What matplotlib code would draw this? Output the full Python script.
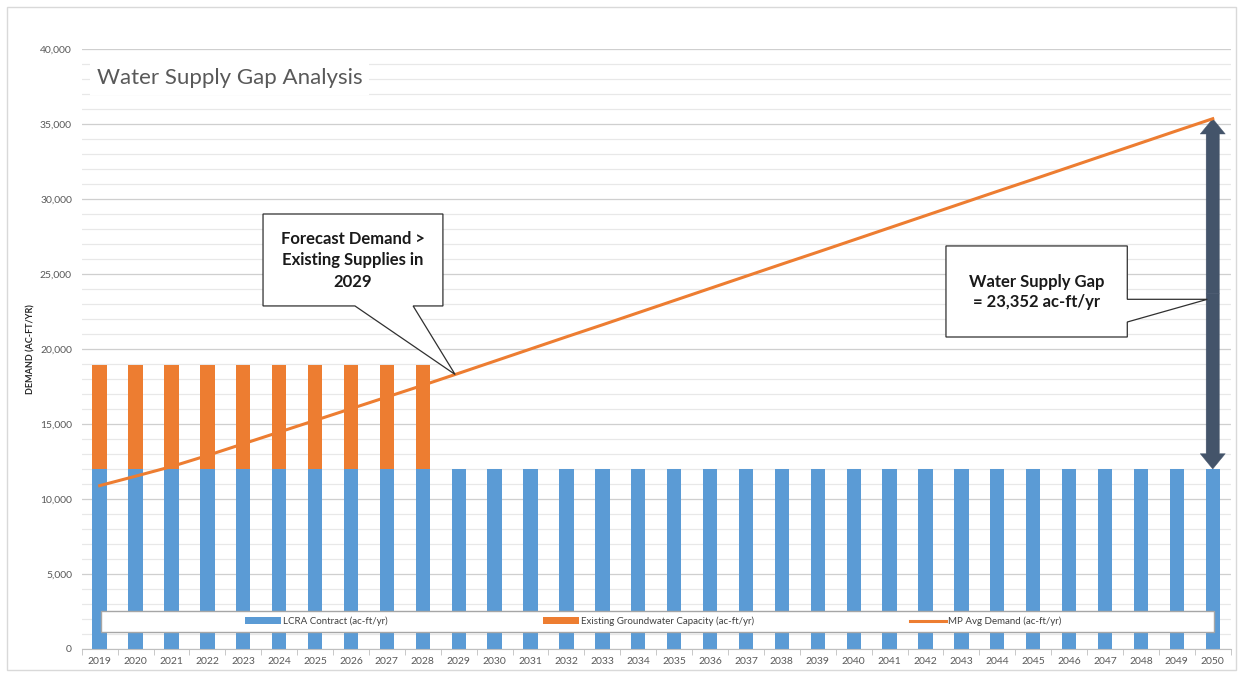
import numpy as np
import matplotlib
matplotlib.use('Agg')
import matplotlib.pyplot as plt
from matplotlib.patches import Polygon, Rectangle, FancyArrowPatch
from matplotlib.ticker import FuncFormatter, MultipleLocator

plt.rcParams['font.family'] = ['Lato', 'DejaVu Sans']

# --- data ---
years = [2019, 2020, 2021, 2022, 2023, 2024, 2025, 2026, 2027, 2028,
         2029, 2030, 2031, 2032, 2033, 2034, 2035, 2036, 2037, 2038,
         2039, 2040, 2041, 2042, 2043, 2044, 2045, 2046, 2047, 2048,
         2049, 2050]
lcra = [12000] * 32
groundwater = [6950] * 10 + [0] * 22
demand = [10890, 11520, 12160, 12900, 13680, 14460, 15240, 16020, 16800, 17580,
          18380, 19190, 20000, 20810, 21610, 22420, 23230, 24040, 24850, 25660,
          26460, 27270, 28080, 28890, 29700, 30510, 31310, 32120, 32930, 33740,
          34550, 35352]

blue = '#5B9BD5'
orange = '#ED7D31'
slate = '#44546A'

fig = plt.figure(figsize=(12.41, 6.75), dpi=100)
ax = fig.add_axes([81.7 / 1241, 26 / 675, 1149 / 1241, 600 / 675])

x = np.arange(len(years))
b1 = ax.bar(x, lcra, width=0.4, color=blue, label='LCRA Contract (ac-ft/yr)', zorder=2)
b2 = ax.bar(x, groundwater, bottom=lcra, width=0.4, color=orange,
            label='Existing Groundwater Capacity (ac-ft/yr)', zorder=2)
l1, = ax.plot(x, demand, color=orange, lw=2.2, label='MP Avg Demand (ac-ft/yr)', zorder=4)

ax.set_xlim(-0.5, len(years) - 0.5)
ax.set_ylim(0, 40000)

# axes styling
ax.set_axisbelow(True)
for s in ['left', 'right', 'top']:
    ax.spines[s].set_visible(False)
ax.spines['bottom'].set_color('#BFBFBF')
ax.yaxis.set_major_locator(MultipleLocator(5000))
ax.yaxis.set_minor_locator(MultipleLocator(1000))
ax.yaxis.set_major_formatter(FuncFormatter(lambda v, p: f'{int(v):,}'))
ax.grid(axis='y', which='major', color='#CFCFCF', lw=0.9)
ax.grid(axis='y', which='minor', color='#E8E8E8', lw=0.9)
ax.tick_params(axis='y', which='both', length=0, pad=7, labelsize=7.5, labelcolor='#595959')
ax.set_xticks(x)
ax.set_xticklabels([str(y) for y in years])
ax.set_xticks(np.arange(len(years) + 1) - 0.5, minor=True)
ax.tick_params(axis='x', which='major', length=0, pad=6, labelsize=7.5, labelcolor='#595959')
ax.tick_params(axis='x', which='minor', length=4, color='#BFBFBF')

# title inside plot
ax.text(0.0133, 0.952, 'Water Supply Gap Analysis', transform=ax.transAxes,
        fontsize=16, color='#595959', ha='left', va='center',
        bbox=dict(fc='white', ec='none', pad=5), zorder=3)

fig.text(31 / 1241, 1 - 349 / 675, 'DEMAND (AC-FT/YR)', rotation=90, fontsize=6.5,
         fontweight='bold', color='#262626', ha='center', va='center')

# double arrow showing the gap in 2050
mid = (lcra[-1] + demand[-1]) / 2
for end in (demand[-1], lcra[-1]):
    ax.add_patch(FancyArrowPatch((x[-1], mid), (x[-1], end),
                                 arrowstyle='simple,head_length=1.1,head_width=1.8,tail_width=0.95',
                                 mutation_scale=10, color=slate, lw=0.3,
                                 shrinkA=0, shrinkB=0, zorder=3))

# callout 1
tip_x = 9.9
tip_y = np.interp(tip_x, x, demand)
call1 = [(4.55, 29000), (9.56, 29000), (9.56, 22870), (8.73, 22870),
         (tip_x, tip_y), (7.11, 22870), (4.55, 22870)]
ax.add_patch(Polygon(call1, closed=True, fc='white', ec='#303030', lw=0.9, zorder=5))
ax.text(7.055, 25900, 'Forecast Demand >\nExisting Supplies in\n2029', ha='center', va='center',
        fontsize=12, fontweight='bold', color='#1A1A1A', linespacing=1.45, zorder=6)

# callout 2
call2 = [(23.57, 26870), (28.62, 26870), (28.62, 23313), (30.85, 23313),
         (28.62, 21800), (28.62, 20800), (23.57, 20800)]
ax.add_patch(Polygon(call2, closed=True, fc='white', ec='#303030', lw=0.9, zorder=5))
ax.text(26.1, 23800, 'Water Supply Gap\n= 23,352 ac-ft/yr', ha='center', va='center',
        fontsize=12, fontweight='bold', color='#1A1A1A', linespacing=1.32, zorder=6)

# legend with a full-width frame
ax.add_patch(Rectangle((0.0168, 0.0283), 0.969, 0.035, transform=ax.transAxes,
                       fc='white', ec='#A6A6A6', lw=1, zorder=6))
leg = ax.legend(handles=[b1, b2, l1], loc='center left',
                bbox_to_anchor=((245 - 81.7) / 1149, (649 - 621.5) / 600),
                ncol=3, frameon=False, fontsize=7, handlelength=3.7, handletextpad=0.2,
                columnspacing=16, borderaxespad=0, borderpad=0, labelcolor='#404040')
leg.set_zorder(7)

# outer chart border
fig.add_artist(Rectangle((7 / 1241, 1 - 670 / 675), 1229 / 1241, 663 / 675,
                         transform=fig.transFigure, fill=False, ec='#D9D9D9', lw=1))

fig.savefig('out.png', dpi=100)
